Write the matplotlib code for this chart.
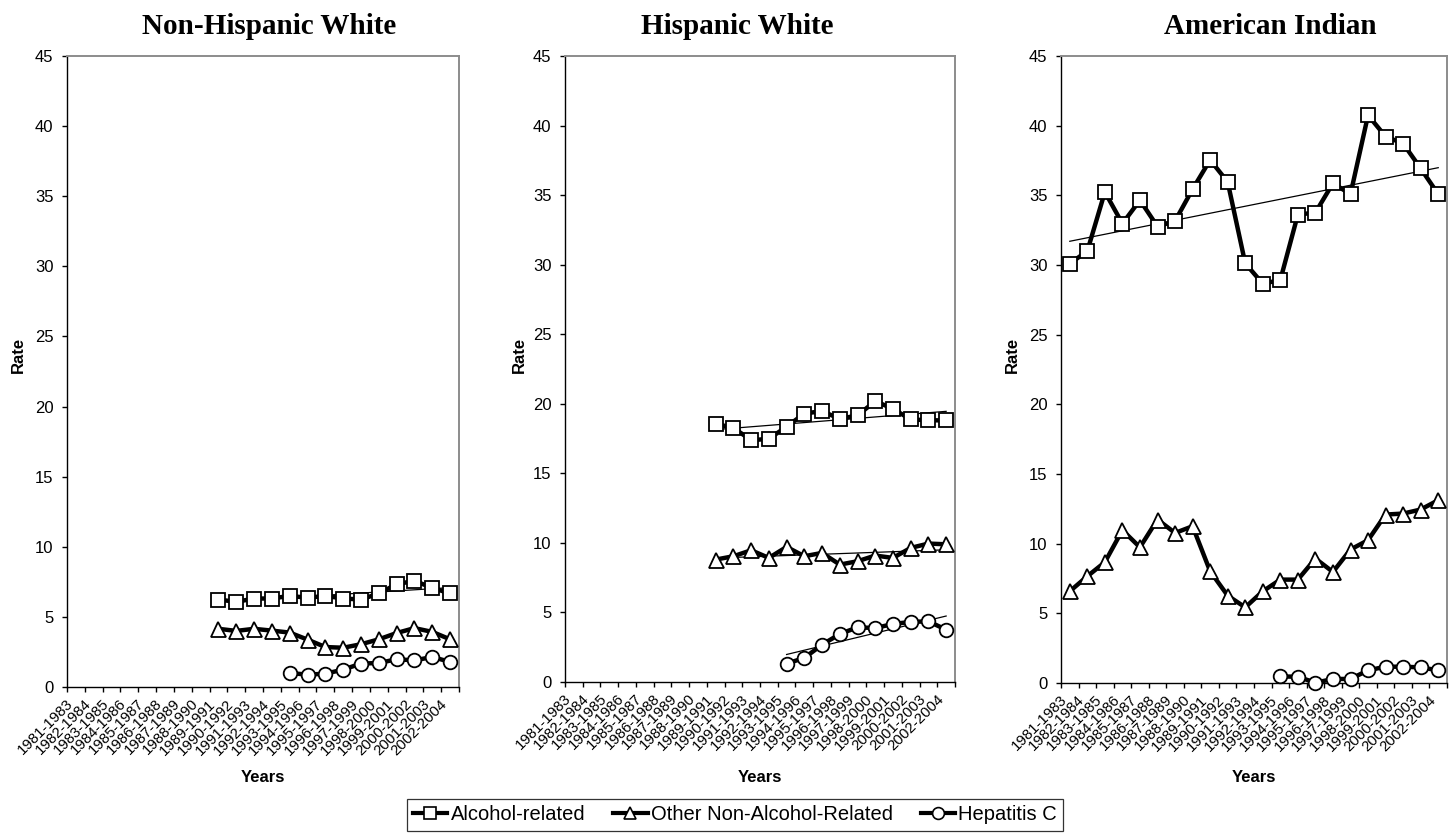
import numpy as np
import matplotlib
matplotlib.use("Agg")
import matplotlib.pyplot as plt
from matplotlib.transforms import ScaledTranslation
from matplotlib.lines import Line2D

# ---------------- data ----------------
periods = ["1981-1983", "1982-1984", "1983-1985", "1984-1986", "1985-1987",
           "1986-1988", "1987-1989", "1988-1990", "1989-1991", "1990-1992",
           "1991-1993", "1992-1994", "1993-1995", "1994-1996", "1995-1997",
           "1996-1998", "1997-1999", "1998-2000", "1999-2001", "2000-2002",
           "2001-2003", "2002-2004"]

N = None
panel_titles = ["Non-Hispanic White", "Hispanic White", "American Indian"]
series_names = ["Alcohol-related", "Other Non-Alcohol-Related", "Hepatitis C"]

nhw_alcohol = [N, N, N, N, N, N, N, N, 6.24, 6.07, 6.31, 6.31, 6.50, 6.36,
               6.50, 6.31, 6.24, 6.67, 7.33, 7.57, 7.07, 6.67]
nhw_other = [N, N, N, N, N, N, N, N, 4.15, 4.00, 4.15, 4.02, 3.88, 3.38,
             2.85, 2.80, 3.05, 3.40, 3.85, 4.20, 3.93, 3.40]
nhw_hepc = [N, N, N, N, N, N, N, N, N, N, N, N, 1.00, 0.88, 0.95, 1.24,
            1.67, 1.71, 1.98, 1.90, 2.14, 1.79]

hw_alcohol = [N, N, N, N, N, N, N, N, 18.56, 18.27, 17.38, 17.48, 18.35, 19.30,
              19.47, 18.92, 19.16, 20.19, 19.64, 18.87, 18.82, 18.80]
hw_other = [N, N, N, N, N, N, N, N, 8.80, 9.04, 9.47, 8.92, 9.71, 9.04,
            9.28, 8.44, 8.68, 9.09, 8.92, 9.64, 9.95, 9.90]
hw_hepc = [N, N, N, N, N, N, N, N, N, N, N, N, 1.32, 1.73, 2.68, 3.45,
           3.93, 3.88, 4.17, 4.32, 4.36, 3.76]

ai_alcohol = [30.10, 31.00, 35.24, 32.97, 34.65, 32.76, 33.16, 35.44, 37.54, 35.96,
              30.12, 28.66, 28.92, 33.62, 33.76, 35.87, 35.08, 40.75, 39.22, 38.72,
              36.93, 35.08]
ai_other = [6.58, 7.66, 8.67, 10.97, 9.74, 11.73, 10.77, 11.25, 8.02, 6.27,
            5.43, 6.58, 7.42, 7.42, 8.93, 7.97, 9.58, 10.25, 12.09, 12.16,
            12.45, 13.12]
ai_hepc = [N, N, N, N, N, N, N, N, N, N, N, N, 0.47, 0.45, 0.02, 0.29,
           0.29, 0.91, 1.17, 1.17, 1.12, 0.91]

panels = [
    (nhw_alcohol, nhw_other, nhw_hepc),
    (hw_alcohol, hw_other, hw_hepc),
    (ai_alcohol, ai_other, ai_hepc),
]
# which series carry a linear trend line (alcohol, other, hepatitis C)
trend_flags = [(True, False, False), (True, True, True), (True, False, False)]

markers = ["s", "^", "o"]
marker_sizes = [10.3, 10.8, 9.8]

# ---------------- layout ----------------
W, H = 1449, 835
fig = plt.figure(figsize=(W / 100, H / 100), dpi=100)
plt.rcParams["font.family"] = ["Liberation Sans", "DejaVu Sans"]

axes_px = [(67, 459, 56, 687), (565, 955, 56, 682), (1061, 1447, 56, 683)]
title_x = [269, 737, 1270]
rate_x = [18, 519, 1012]

x = np.arange(len(periods))

for i, (l, r, t, b) in enumerate(axes_px):
    ax = fig.add_axes([l / W, (H - b) / H, (r - l) / W, (b - t) / H])
    for j, vals in enumerate(panels[i]):
        y = np.array([np.nan if v is None else v for v in vals], dtype=float)
        ax.plot(x, y, color="black", lw=3.2, zorder=2, solid_joinstyle="round")
        if trend_flags[i][j]:
            m = ~np.isnan(y)
            coef = np.polyfit(x[m], y[m], 1)
            xt = x[m][[0, -1]]
            ax.plot(xt, np.polyval(coef, xt), color="black", lw=0.9, zorder=3)
        ax.plot(x, y, linestyle="none", marker=markers[j], ms=marker_sizes[j],
                mfc="white", mec="black", mew=1.3, zorder=4, clip_on=False)

    ax.set_xlim(-0.5, len(periods) - 0.5)
    ax.set_ylim(0, 45)
    ax.set_yticks(np.arange(0, 46, 5))
    ax.tick_params(axis="y", direction="out", length=3.8, width=1.0, pad=6,
                   labelsize=12, colors="black")
    ax.set_xticks(x)
    ax.set_xticklabels(periods)
    ax.set_xticks(np.arange(-0.5, len(periods), 1.0), minor=True)
    ax.tick_params(axis="x", which="major", length=0, pad=10.5, labelsize=10.8)
    ax.tick_params(axis="x", which="minor", direction="out", length=3.8, width=1.0)
    off = ScaledTranslation(-5 / 100, 0, fig.dpi_scale_trans)
    for lab in ax.get_xticklabels():
        lab.set_rotation(45)
        lab.set_ha("right")
        lab.set_va("center")
        lab.set_rotation_mode("anchor")
        lab.set_transform(lab.get_transform() + off)

    for s in ["left", "bottom"]:
        ax.spines[s].set_color("black")
        ax.spines[s].set_linewidth(1.0)
    for s in ["top", "right"]:
        ax.spines[s].set_color("#8c8c8c")
        ax.spines[s].set_linewidth(1.4)

    fig.text(title_x[i] / W, 1 - 27 / H, panel_titles[i], ha="center", va="center",
             fontsize=21, fontweight="bold", family=["Liberation Serif", "DejaVu Serif"])
    fig.text(rate_x[i] / W, 1 - 355 / H, "Rate", rotation=90, ha="center",
             va="center", fontsize=12, fontweight="bold")
    fig.text(((l + r) / 2) / W, 1 - 778 / H, "Years", ha="center", va="center",
             fontsize=12, fontweight="bold")

handles = [Line2D([], [], color="black", lw=3.0, marker=markers[k], ms=8.5,
                  mfc="white", mec="black", mew=1.2) for k in range(3)]
leg = fig.legend(handles, series_names, loc="center",
                 bbox_to_anchor=(735 / W, 1 - 815 / H), ncol=3, fontsize=14.5,
                 frameon=True, fancybox=False, edgecolor="black",
                 handlelength=1.7, handletextpad=0.15, columnspacing=1.4,
                 borderpad=0.3, borderaxespad=0)
leg.get_frame().set_linewidth(0.9)

fig.savefig("out.png", dpi=100, facecolor="white")
